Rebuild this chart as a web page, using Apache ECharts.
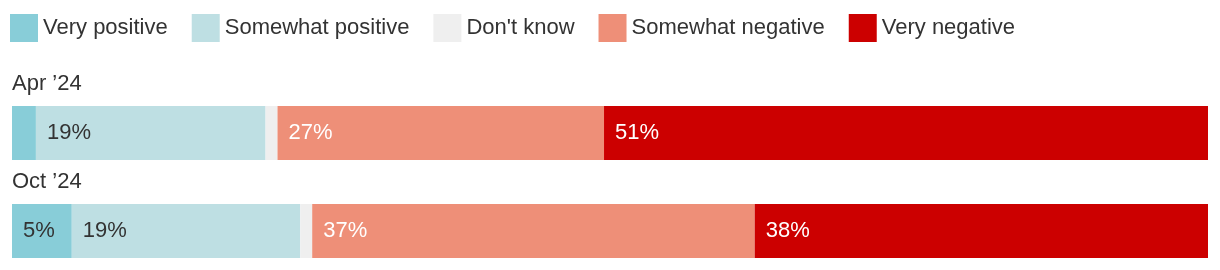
<!DOCTYPE html>
<html>
<head>
<meta charset="utf-8">
<script src="https://cdn.jsdelivr.net/npm/echarts@6/dist/echarts.min.js"></script>
<style>
html,body{margin:0;padding:0;background:#fff;}
#chart{width:1220px;height:270px;}
</style>
</head>
<body>
<div id="chart"></div>
<script>
const categories = ["Apr \u201924", "Oct \u201924"];
const seriesNames = ["Very positive", "Somewhat positive", "Don't know", "Somewhat negative", "Very negative"];
const veryPositive = [2, 5];
const somewhatPositive = [19.2, 19.1];
const dontKnow = [1, 1];
const somewhatNegative = [27.3, 37];
const veryNegative = [50.5, 37.9];

const values = [veryPositive, somewhatPositive, dontKnow, somewhatNegative, veryNegative];
const colors = ["#88cdd8", "#bedfe3", "#efefef", "#ee8f78", "#cc0000"];
const labelColors = ["#333333", "#333333", "#333333", "#ffffff", "#ffffff"];
const FONT = "Liberation Sans, Arial, sans-serif";

const chart = echarts.init(document.getElementById('chart'), null, {renderer: 'canvas'});
chart.setOption({
  animation: false,
  color: colors,
  legend: {
    left: 10,
    top: 14,
    padding: 0,
    itemWidth: 28,
    itemHeight: 28,
    itemGap: 24,
    icon: 'rect',
    textStyle: {fontFamily: FONT, fontSize: 22, color: '#333333'},
    data: seriesNames
  },
  grid: {left: 12, right: 12, top: 133, height: 98, containLabel: false},
  xAxis: {type: 'value', min: 0, max: 100, show: false},
  yAxis: {
    type: 'category',
    inverse: true,
    boundaryGap: false,
    data: categories,
    axisLine: {show: false},
    axisTick: {show: false},
    splitLine: {show: false},
    axisLabel: {
      inside: true,
      margin: 0,
      align: 'left',
      verticalAlign: 'bottom',
      padding: [0, 0, 38, 0],
      fontFamily: FONT,
      fontSize: 22,
      color: '#333333'
    }
  },
  series: seriesNames.map((name, i) => ({
    name: name,
    type: 'bar',
    stack: 'total',
    barWidth: 54,
    data: values[i],
    itemStyle: {color: colors[i]},
    label: {
      show: true,
      position: 'insideLeft',
      distance: 11,
      fontFamily: FONT,
      fontSize: 22,
      color: labelColors[i],
      formatter: p => (p.value >= 3 ? Math.round(p.value) + '%' : '')
    }
  }))
});
</script>
</body>
</html>
